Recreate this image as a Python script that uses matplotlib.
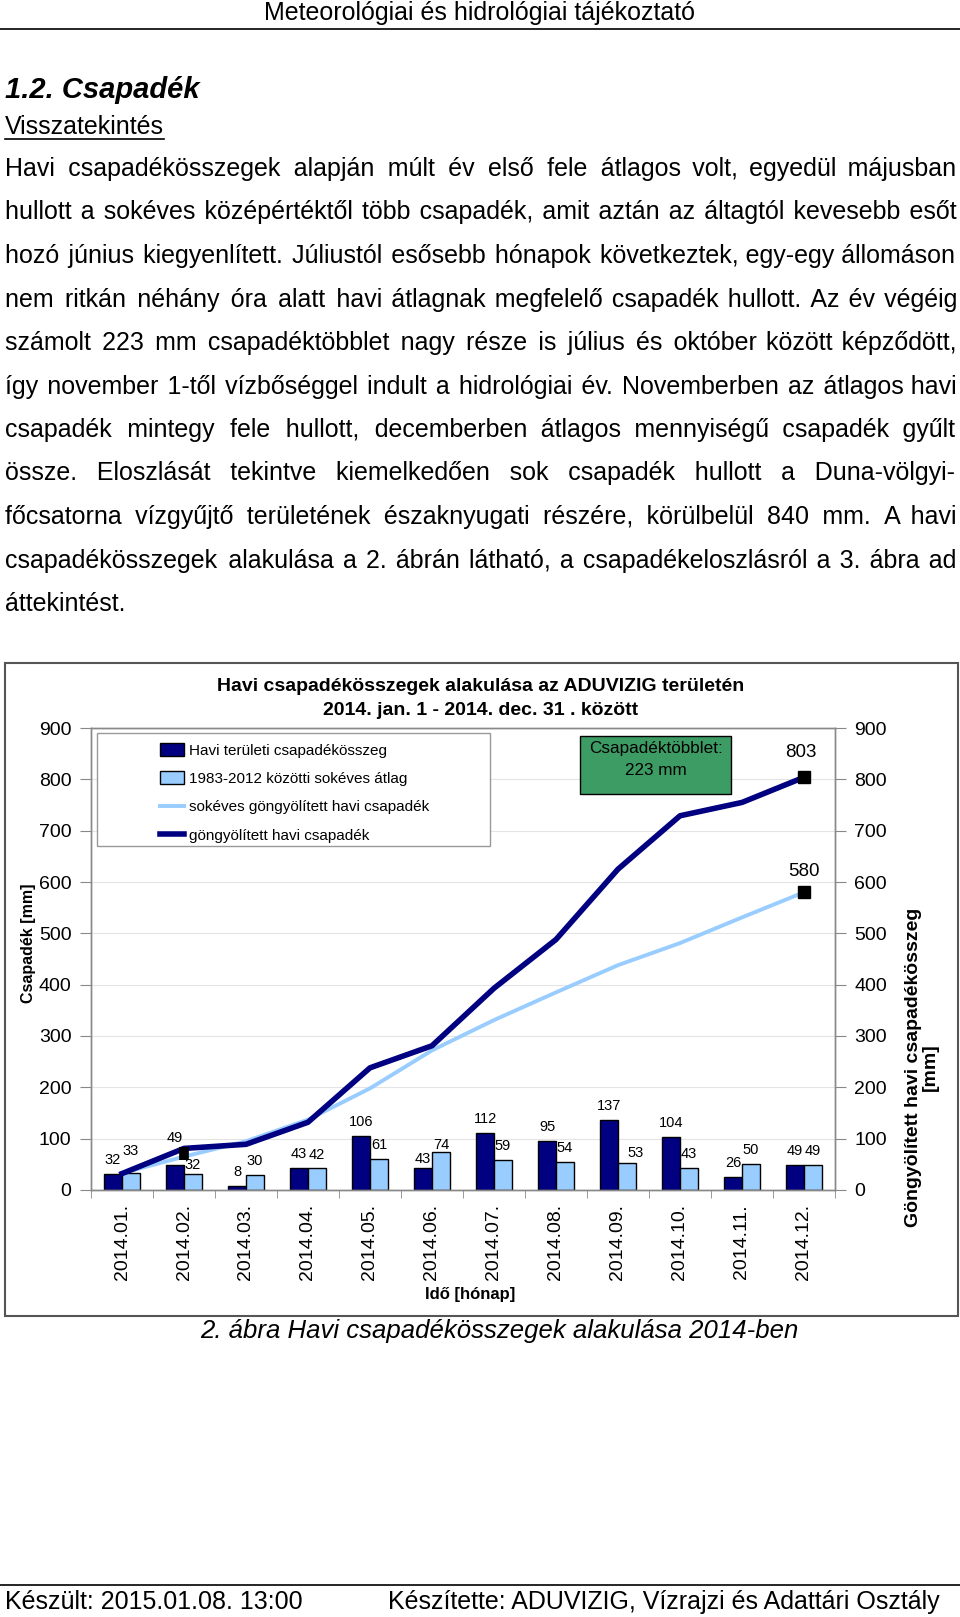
import numpy as np
import matplotlib
matplotlib.use("Agg")
import matplotlib.pyplot as plt
from matplotlib.patches import Rectangle, Patch
from matplotlib.lines import Line2D

plt.rcParams['font.family'] = ['Liberation Sans', 'DejaVu Sans']

# Page size in pixels
W, H = 960, 1617

# Chart data
months = ["2014.01.", "2014.02.", "2014.03.", "2014.04.", "2014.05.", "2014.06.",
          "2014.07.", "2014.08.", "2014.09.", "2014.10.", "2014.11.", "2014.12."]
monthly = [32, 49, 8, 43, 106, 43, 112, 95, 137, 104, 26, 49]
longterm = [33, 32, 30, 42, 61, 74, 59, 54, 53, 43, 50, 49]
cum_label = 803   # label shown at the end of the cumulative curve
# vertical nudges (px) of the value labels, as placed in the original
monthly_dy = [0, 13, 0, 0, 0, -5, 0, 0, 0, 0, 0, 0]
longterm_dy = [8, -5, 0, 0, 0, -7, 0, 0, -4, 0, 0, 0]

# Page text
header = "Meteorológiai és hidrológiai tájékoztató"
heading = "1.2. Csapadék"
subheading = "Visszatekintés"
paragraph = [
    "Havi csapadékösszegek alapján múlt év első fele átlagos volt, egyedül májusban",
    "hullott a sokéves középértéktől több csapadék, amit aztán az áltagtól kevesebb esőt",
    "hozó június kiegyenlített. Júliustól esősebb hónapok következtek, egy-egy állomáson",
    "nem ritkán néhány óra alatt havi átlagnak megfelelő csapadék hullott. Az év végéig",
    "számolt 223 mm csapadéktöbblet nagy része is július és október között képződött,",
    "így november 1-től vízbőséggel indult a hidrológiai év. Novemberben az átlagos havi",
    "csapadék mintegy fele hullott, decemberben átlagos mennyiségű csapadék gyűlt",
    "össze. Eloszlását tekintve kiemelkedően sok csapadék hullott a Duna-völgyi-",
    "főcsatorna vízgyűjtő területének északnyugati részére, körülbelül 840 mm.  A havi",
    "csapadékösszegek alakulása a 2. ábrán látható, a csapadékeloszlásról a 3. ábra ad",
    "áttekintést.",
]
caption = "2. ábra Havi csapadékösszegek alakulása 2014-ben"
footer_left = "Készült: 2015.01.08. 13:00"
footer_right = "Készítette: ADUVIZIG, Vízrajzi és Adattári Osztály"

DARK = "#000080"
LIGHT = "#99CCFF"
GRAY = "#888888"

fig = plt.figure(figsize=(W / 100, H / 100), dpi=100)
renderer = fig.canvas.get_renderer()


def fx(x):
    return x / W


def fy(y):
    return 1 - y / H


def ftext(x, y, s, **kw):
    kw.setdefault("va", "center")
    return fig.text(fx(x), fy(y), s, **kw)


# ---- page header and text ----
ftext(480, 13, header, ha="center", fontsize=18)
fig.add_artist(Line2D([0, 1], [fy(29), fy(29)], color="black", lw=1.2))
ftext(5, 90, heading, fontsize=21, fontweight="bold", style="italic")
t_sub = ftext(5, 127, subheading, fontsize=18)
sub_w = t_sub.get_window_extent(renderer).width
fig.add_artist(Line2D([fx(5), fx(5 + sub_w)], [fy(139), fy(139)], color="black", lw=1.2))

# justified paragraph: each line is one text, gaps widened with hair spaces
left, right = 5, 956
line_y = [176, 219, 263, 307, 350, 394, 437, 480, 524, 568, 611]
HAIR = "\u200a"
body_size = 18
probe = fig.text(0, 0, "", fontsize=body_size)


def width_of(s):
    probe.set_text(s)
    return probe.get_window_extent(renderer).width


widest = max(width_of(" ".join(line.split())) for line in paragraph[:-1])
body_size = min(body_size, body_size * (right - left - 2) / widest)
probe.set_fontsize(body_size)
hair_w = width_of("a" + HAIR * 10 + "b") - width_of("ab")
hair_w /= 10

for i, (line, y) in enumerate(zip(paragraph, line_y)):
    words = line.split()
    if i == len(paragraph) - 1:
        ftext(left, y, " ".join(words), fontsize=body_size, va="baseline")
        continue
    extra = (right - left) - width_of(" ".join(words))
    n_gaps = len(words) - 1
    total = max(0, int(round(extra / hair_w)))
    base, rem = divmod(total, n_gaps)
    s = words[0]
    for k, w in enumerate(words[1:]):
        s += " " + HAIR * (base + (1 if k < rem else 0)) + w
    ftext(left, y, s, fontsize=body_size, va="baseline")
probe.remove()

# ---- chart ----
fig.add_artist(Rectangle((fx(5), fy(1316)), fx(958) - fx(5), fy(663) - fy(1316),
                         transform=fig.transFigure, fill=False, edgecolor="#555555", lw=1.5))
ftext(481, 686, "Havi csapadékösszegek alakulása az ADUVIZIG területén",
      ha="center", fontsize=14, fontweight="bold")
ftext(481, 710, "2014. jan. 1 - 2014. dec. 31 . között",
      ha="center", fontsize=14, fontweight="bold")

ax = fig.add_axes([fx(91), fy(1190), fx(835) - fx(91), fy(728) - fy(1190)])
ax2 = ax.twinx()

x = np.arange(len(months))
bw = 0.29
cum = np.cumsum(monthly)
cum_avg = np.cumsum(longterm)

ax.bar(x - bw / 2, monthly, bw, color=DARK, edgecolor="black", lw=1, zorder=2)
ax.bar(x + bw / 2, longterm, bw, color=LIGHT, edgecolor="black", lw=1, zorder=2)

for xi, v, d in zip(x, monthly, monthly_dy):
    ax.annotate(str(v), (xi - bw / 2, v), xytext=(0, 10 + d * 0.72), textcoords="offset points",
                ha="center", va="center", fontsize=10.5)
for xi, v, d in zip(x, longterm, longterm_dy):
    dx = 6 if d == -4 else 0
    ax.annotate(str(v), (xi + bw / 2, v), xytext=(dx, 10 + d * 0.72), textcoords="offset points",
                ha="center", va="center", fontsize=10.5)

ax.set_xlim(-0.5, len(months) - 0.5)
ax.set_ylim(0, 900)
ax.set_yticks(range(0, 901, 100))
ax.yaxis.grid(True, color="#e4e4e4", lw=0.8, zorder=0)
ax.set_axisbelow(True)
ax.set_xticks(x)
ax.set_xticklabels(months, rotation=90, fontsize=14)
ax.set_xticks(np.arange(-0.5, len(months), 1), minor=True)
ax.tick_params(axis="x", which="major", length=0, pad=10)
ax.tick_params(axis="x", which="minor", length=6, color=GRAY, direction="out")
ax.tick_params(axis="y", length=8, color=GRAY, labelsize=14, pad=6)

ax2.plot(x, cum_avg, color=LIGHT, lw=2.8, zorder=3)
ax2.plot(x, cum, color=DARK, lw=4, zorder=4)
ax2.plot(x[-1], cum[-1], "s", color="black", ms=8, zorder=5)
ax2.plot(x[-1], cum_avg[-1], "s", color="black", ms=8, zorder=5)
ax2.vlines(x[1], cum_avg[1] - 6, cum[1] + 3, color="black", lw=7, zorder=5)
ax2.annotate(str(cum_label), (x[-1], cum[-1]), xytext=(-2, 18), textcoords="offset points",
             ha="center", va="center", fontsize=13.5)
ax2.annotate(str(cum_avg[-1]), (x[-1], cum_avg[-1]), xytext=(0, 15), textcoords="offset points",
             ha="center", va="center", fontsize=13.5)
ax2.set_ylim(0, 900)
ax2.set_yticks(range(0, 901, 100))
ax2.tick_params(axis="y", length=8, color=GRAY, labelsize=14, pad=6)

for a in (ax, ax2):
    for s in a.spines.values():
        s.set_color(GRAY)
        s.set_linewidth(1)

# axis titles
ftext(28, 943, "Csapadék [mm]", ha="center", rotation=90, fontsize=11.5, fontweight="bold")
ftext(922, 1067, "Göngyölített havi csapadékösszeg\n[mm]", ha="center", rotation=90,
      fontsize=14, fontweight="bold", linespacing=1.0)
ftext(470, 1295, "Idő [hónap]", ha="center", fontsize=12, fontweight="bold")

# legend: frame drawn separately, entries indented as in the original
fig.add_artist(Rectangle((fx(97), fy(846)), fx(490) - fx(97), fy(733) - fy(846),
                         transform=fig.transFigure, facecolor="white",
                         edgecolor="#999999", lw=1, zorder=3))
handles = [Patch(facecolor=DARK, edgecolor="black"),
           Patch(facecolor=LIGHT, edgecolor="black"),
           Line2D([], [], color=LIGHT, lw=2.8),
           Line2D([], [], color=DARK, lw=4)]
labels = ["Havi területi csapadékösszeg", "1983-2012 közötti sokéves átlag",
          "sokéves göngyölített havi csapadék", "göngyölített havi csapadék"]
leg = fig.legend(handles, labels, loc="upper left", bbox_to_anchor=(fx(160), fy(743)),
                 borderaxespad=0, borderpad=0, frameon=False, fontsize=11,
                 labelspacing=0.9, handlelength=1.57, handleheight=0.9,
                 handletextpad=0.33)
leg.set_zorder(4)

# surplus box
fig.add_artist(Rectangle((fx(580), fy(794)), fx(731) - fx(580), fy(736) - fy(794),
                         transform=fig.transFigure, facecolor="#3d9b64",
                         edgecolor="black", lw=1, zorder=3))
ftext(656, 749, "Csapadéktöbblet:", ha="center", fontsize=12.3, zorder=4)
ftext(656, 770, "223 mm", ha="center", fontsize=12.3, zorder=4)

# caption and footer
ftext(499, 1331, caption, ha="center", fontsize=18.5, style="italic")
fig.add_artist(Line2D([0, 1], [fy(1585), fy(1585)], color="black", lw=1.2))
ftext(5, 1602, footer_left, fontsize=18)
ftext(388, 1602, footer_right, fontsize=18)

fig.savefig("out.png", dpi=100)
